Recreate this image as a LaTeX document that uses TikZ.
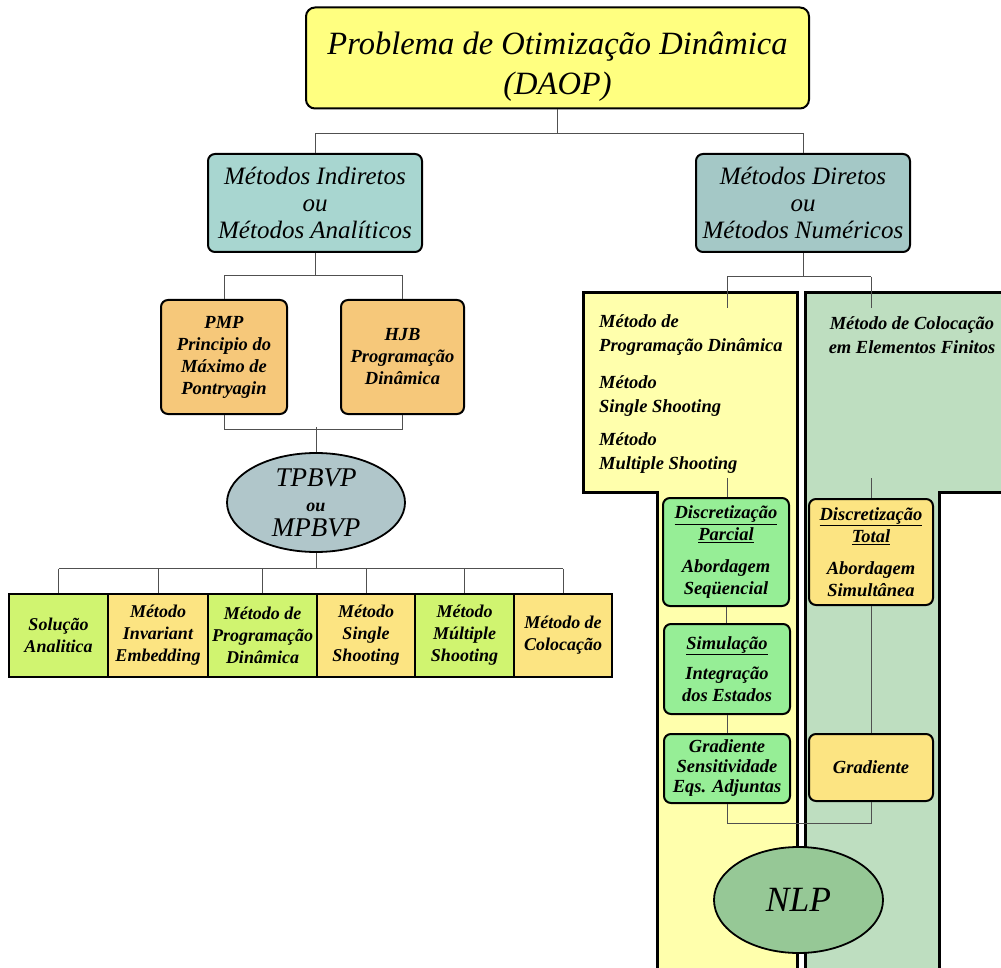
\documentclass[tikz,border=0pt]{standalone}
\usepackage{fontspec}
\setmainfont{Liberation Serif}
\usetikzlibrary{shapes.geometric,calc}
\definecolor{cTop}{RGB}{255,255,128}
\definecolor{cInd}{RGB}{168,214,208}
\definecolor{cDir}{RGB}{164,200,198}
\definecolor{cOr}{RGB}{246,200,122}
\definecolor{cEll}{RGB}{176,198,202}
\definecolor{cGr}{RGB}{208,244,112}
\definecolor{cYe}{RGB}{252,228,130}
\definecolor{cPY}{RGB}{255,255,172}
\definecolor{cPG}{RGB}{190,222,192}
\definecolor{cBG}{RGB}{150,238,150}
\definecolor{cNLP}{RGB}{150,200,150}
\definecolor{cLine}{RGB}{80,80,80}
\newcommand\myfs[2]{\fontsize{#1}{#2}\selectfont}
\tikzset{
  conn/.style={draw=cLine, line width=1pt},
  rbox/.style={draw=black, line width=2pt, rounded corners=7pt, align=center, inner sep=0pt},
  sbox/.style={draw=black, line width=2.2pt, align=center, inner sep=0pt, minimum height=83pt,
               font=\myfs{18}{22}\bfseries\itshape},
  ell/.style={ellipse, draw=black, line width=1.8pt, inner sep=0pt, align=center},
  panel/.style={draw=black, line width=3pt},
  ptxt/.style={align=left, anchor=west, inner sep=0pt, font=\myfs{18.5}{24}\bfseries\itshape},
  small/.style={font=\myfs{18.5}{22}\bfseries\itshape},
}
\begin{document}
\begin{tikzpicture}[x=1pt,y=-1pt]
\useasboundingbox (0,0) rectangle (1001,968);
\clip (0,0) rectangle (1001,968);
\fill[white] (0,0) rectangle (1001,968);

% panels
\draw[panel, fill=cPY] (583,293) -- (797,293) -- (797,980) -- (657,980) -- (657,492) -- (583,492) -- cycle;
\draw[panel, fill=cPG] (805,293) -- (1015,293) -- (1015,492) -- (939,492) -- (939,980) -- (805,980) -- cycle;

% nodes
\node[rbox, rounded corners=9pt, fill=cTop, minimum width=503pt, minimum height=101pt, font=\myfs{32.5}{40}\itshape] (top) at (557.5,58) {\rule{0pt}{39pt}Problema de Otimização Dinâmica\\(DAOP)};
\node[rbox, fill=cInd, minimum width=214pt, minimum height=98pt, font=\myfs{25}{27}\itshape] (ind) at (315,203) {Métodos Indiretos\\ou\\Métodos Analíticos};
\node[rbox, fill=cDir, minimum width=214pt, minimum height=98pt, font=\myfs{25}{27}\itshape] (dir) at (803,203) {Métodos Diretos\\ou\\Métodos Numéricos};

\node[rbox, small, fill=cOr, minimum width=126pt, minimum height=114pt] (pmp) at (224,357) {PMP\\Principio do\\Máximo de\\Pontryagin};
\node[rbox, small, fill=cOr, minimum width=123pt, minimum height=114pt] (hjb) at (402.5,357) {HJB\\Programação\\Dinâmica};

\node[ell, fill=cEll, minimum width=178pt, minimum height=99pt, font=\myfs{27}{25}\itshape] (tp) at (316,502.5) {TPBVP\\{\bfseries\myfs{18}{25}ou}\\MPBVP};

\node[sbox, fill=cGr, minimum width=99pt] (b1) at (58.5,635.5) {Solução\\Analitica};
\node[sbox, fill=cYe, minimum width=100pt] (b2) at (158,635.5) {Método\\Invariant\\Embedding};
\node[sbox, fill=cGr, minimum width=109pt] (b3) at (262.5,635.5) {Método de\\Programação\\Dinâmica};
\node[sbox, fill=cYe, minimum width=98pt] (b4) at (366,635.5) {Método\\Single\\Shooting};
\node[sbox, fill=cGr, minimum width=99pt] (b5) at (464.5,635.5) {Método\\Múltiple\\Shooting};
\node[sbox, fill=cYe, minimum width=98pt] (b6) at (563,635.5) {Método de\\Colocação};

\node[ptxt] (p1) at (599,335) {Método de\\Programação Dinâmica};
\node[ptxt] (p2) at (599,396.5) {Método\\Single Shooting};
\node[ptxt] (p3) at (599,453) {Método\\Multiple Shooting};
\node[align=center, inner sep=0pt, font=\myfs{18.5}{24}\bfseries\itshape] (q1) at (912,335) {Método de Colocação\\em Elementos Finitos};

\node[rbox, small, fill=cBG, minimum width=126pt, minimum height=108pt] (dp) at (726,552) {\underline{Discretização}\\\underline{Parcial}\\[10pt]Abordagem\\Seqüencial};
\node[rbox, small, fill=cBG, minimum width=126pt, minimum height=90pt] (sim) at (727,669) {\underline{Simulação}\\[8pt]Integração\\dos Estados};
\node[rbox, small, fill=cBG, minimum width=126pt, minimum height=69pt, font=\myfs{18.5}{20}\bfseries\itshape] (g1) at (727,768.5) {Gradiente\\Sensitividade\\Eqs. Adjuntas};
\node[rbox, small, fill=cYe, minimum width=124pt, minimum height=106pt] (dt) at (871,552) {\underline{Discretização}\\\underline{Total}\\[10pt]Abordagem\\Simultânea};
\node[rbox, small, fill=cYe, minimum width=124pt, minimum height=67pt] (g2) at (871,767.5) {Gradiente};

\node[ell, fill=cNLP, minimum width=169pt, minimum height=106pt, font=\myfs{35.5}{40}\itshape] (nlp) at (798.5,900) {NLP};

% connectors
\draw[conn] (top.south) -- ++(0,24) coordinate (j0);
\draw[conn] (j0 -| ind.north) -- (j0 -| dir.north);
\draw[conn] (j0 -| ind.north) -- (ind.north);
\draw[conn] (j0 -| dir.north) -- (dir.north);

\draw[conn] (ind.south) -- ++(0,23) coordinate (j1);
\draw[conn] (j1 -| pmp.north) -- (j1 -| hjb.north);
\draw[conn] (j1 -| pmp.north) -- (pmp.north);
\draw[conn] (j1 -| hjb.north) -- (hjb.north);
\draw[conn] (pmp.south) -- ++(0,14) -| (hjb.south);
\draw[conn] (tp.north) -- ++(0,-25);

\draw[conn] (tp.south) -- ++(0,16) coordinate (j2);
\draw[conn] (j2 -| b1.north) -- (j2 -| b6.north);
\foreach \b in {b1,b2,b3,b4,b5,b6}{\draw[conn] (j2 -| \b.north) -- (\b.north);}

\draw[conn] (dir.south) -- ++(0,24) coordinate (j3);
\coordinate (eY) at (727,308);
\coordinate (eG) at (871,308);
\coordinate (sY) at (727,478);
\coordinate (sG) at (871,478);
\draw[conn] (j3 -| eY) -- (j3 -| eG);
\draw[conn] (j3 -| eY) -- (eY);
\draw[conn] (j3 -| eG) -- (eG);
\draw[conn] (sY) -- (sY |- dp.north);
\draw[conn] (sG) -- (sG |- dt.north);
\draw[conn] (dp.south) -- (dp.south |- sim.north);
\draw[conn] (sim.south) -- (g1.north);
\draw[conn] (dt.south) -- (g2.north);
\draw[conn] (g1.south) -- ++(0,19) -| (g2.south);
\end{tikzpicture}
\end{document}
